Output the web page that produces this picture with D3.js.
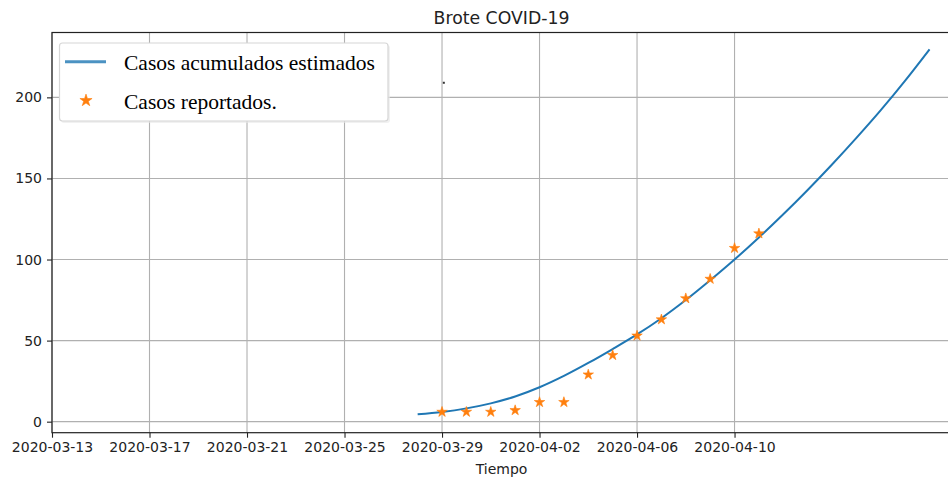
<!DOCTYPE html>
<html><head><meta charset="utf-8">
<script src="https://cdn.jsdelivr.net/npm/d3@7"></script>
<style>body{margin:0;background:#fff}svg{display:block}</style>
</head><body>
<svg id="c" width="948" height="482"></svg>
<script>
const curveDates = ["2020-03-28","2020-03-29","2020-03-30","2020-03-31","2020-04-01","2020-04-02","2020-04-03","2020-04-04","2020-04-05","2020-04-06","2020-04-07","2020-04-08","2020-04-09","2020-04-10","2020-04-11","2020-04-12","2020-04-13","2020-04-14","2020-04-15","2020-04-16","2020-04-17","2020-04-18"];
const curveValues = [4.6,6.0,8.2,11.3,15.5,21.2,28.2,36.2,44.8,53.8,63.8,75.0,87.2,100,113.6,127.9,142.9,158.6,175.0,192.1,210.3,229.6];
const reportDates = ["2020-03-29","2020-03-30","2020-03-31","2020-04-01","2020-04-02","2020-04-03","2020-04-04","2020-04-05","2020-04-06","2020-04-07","2020-04-08","2020-04-09","2020-04-10","2020-04-11"];
const reportValues = [6,6,6,7,12,12,29,41,53,63,76,88,107,116];
const xTickLabels = ["2020-03-13","2020-03-17","2020-03-21","2020-03-25","2020-03-29","2020-04-02","2020-04-06","2020-04-10"];
const yTicks = [0,50,100,150,200];
const strayDot = {date:"2020-03-29", value:209};
const title = "Brote COVID-19";
const xLabel = "Tiempo";
const legendLabels = ["Casos acumulados estimados","Casos reportados."];

const parse = d3.utcParse("%Y-%m-%d");
const fmt = d3.utcFormat("%Y-%m-%d");
const svg = d3.select("#c");
const L=52, R=951, T=32.5, B=432.7;
const x0 = parse("2020-03-13");
const x1 = new Date(x0.getTime() + 36.88*86400000);
const x = d3.scaleUtc().domain([x0,x1]).range([L,R]);
const y = d3.scaleLinear().domain([-6.8,240]).range([B,T]);
const tickDates = xTickLabels.map(parse);

// grid
const g = svg.append("g");
g.selectAll(".vg").data(tickDates).join("line")
  .attr("x1",d=>x(d)).attr("x2",d=>x(d)).attr("y1",T).attr("y2",B)
  .attr("stroke","#b0b0b0").attr("stroke-width",1.1);
g.selectAll(".hg").data(yTicks).join("line")
  .attr("x1",L).attr("x2",R).attr("y1",d=>y(d)).attr("y2",d=>y(d))
  .attr("stroke","#b0b0b0").attr("stroke-width",1.1);

// axes
const xAxis = d3.axisBottom(x).tickValues(tickDates).tickFormat(fmt).tickSize(5).tickPadding(4);
const yAxis = d3.axisLeft(y).tickValues(yTicks).tickSize(5).tickPadding(5);
const xa = svg.append("g").attr("transform",`translate(0,${B})`).call(xAxis);
const ya = svg.append("g").attr("transform",`translate(${L},0)`).call(yAxis);
[xa,ya].forEach(a=>{
  a.select(".domain").remove();
  a.selectAll("line").attr("stroke","#222").attr("stroke-width",1.1);
  a.selectAll("text").attr("fill","#222").style("font-family","DejaVu Sans").style("font-size","14px");
});

// spines
svg.append("rect").attr("x",L).attr("y",T).attr("width",R-L).attr("height",B-T)
  .attr("fill","none").attr("stroke","#222").attr("stroke-width",1.2);

// curve
const line = d3.line().x((d,i)=>x(parse(curveDates[i]))).y(d=>y(d)).curve(d3.curveCatmullRom.alpha(0.5));
svg.append("path").datum(curveValues).attr("d",line)
  .attr("fill","none").attr("stroke","#1f77b4").attr("stroke-width",2);

// stars
const star = d3.symbol().type(d3.symbolStar).size(34);
svg.selectAll(".st").data(reportValues).join("path")
  .attr("d",star).attr("transform",(d,i)=>`translate(${x(parse(reportDates[i]))},${y(d)})`)
  .attr("fill","#ff7f0e").attr("stroke","#ff7f0e").attr("stroke-width",0.6);

// stray dot
svg.append("rect").attr("x",x(parse(strayDot.date))+0.8).attr("y",y(strayDot.value)-1)
  .attr("width",2).attr("height",2).attr("fill","#333");

// title and label
svg.append("text").attr("x",(L+R)/2).attr("y",24).attr("text-anchor","middle")
  .style("font-family","DejaVu Sans").style("font-size","17.3px").attr("fill","#222").text(title);
svg.append("text").attr("x",(L+R)/2).attr("y",474).attr("text-anchor","middle")
  .style("font-family","DejaVu Sans").style("font-size","14px").attr("fill","#222").text(xLabel);

// legend
const lg = svg.append("g");
lg.append("rect").attr("x",61).attr("y",45).attr("width",329).attr("height",78).attr("rx",3)
  .attr("fill","#e8e8e8").attr("opacity",0.6);
lg.append("rect").attr("x",59.5).attr("y",43).attr("width",328.5).attr("height",78).attr("rx",3)
  .attr("fill","#fff").attr("stroke","#d6d6d6").attr("stroke-width",1.2);
lg.append("line").attr("x1",65).attr("x2",106).attr("y1",61.7).attr("y2",61.7)
  .attr("stroke","#1f77b4").attr("stroke-width",3).attr("opacity",0.8);
lg.append("path").attr("d",d3.symbol().type(d3.symbolStar).size(46)).attr("transform","translate(86,100.5)")
  .attr("fill","#ff7f0e").attr("stroke","#ff7f0e").attr("stroke-width",0.6);
lg.selectAll("text.lt").data(legendLabels).join("text")
  .attr("x",124).attr("y",(d,i)=>69.5+i*39.5)
  .style("font-family","Liberation Serif").style("font-size","21.5px").attr("fill","#000").text(d=>d);
</script>
</body></html>
